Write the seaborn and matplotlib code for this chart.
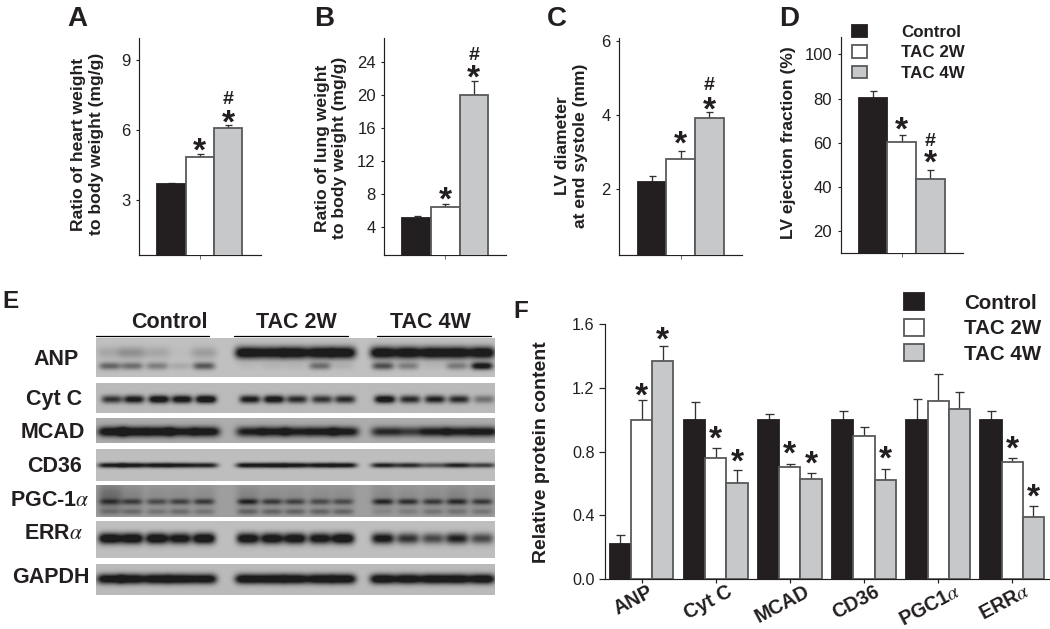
import numpy as np
import pandas as pd
import matplotlib
matplotlib.use("Agg")
import matplotlib.pyplot as plt
from matplotlib.lines import Line2D
from matplotlib.patches import Patch
from matplotlib.transforms import ScaledTranslation
import seaborn as sns

# ---------- data ----------
conditions = ["Control", "TAC 2W", "TAC 4W"]
heart_vals = [3.66, 4.84, 6.07]
heart_tops = [3.70, 4.96, 6.23]
lung_vals = [5.18, 6.47, 20.0]
lung_tops = [5.35, 6.80, 21.7]
diam_vals = [2.20, 2.82, 3.91]
diam_tops = [2.34, 3.02, 4.07]
ef_vals = [80.5, 60.6, 43.5]
ef_tops = [83.3, 63.6, 47.5]

proteins = ["ANP", "Cyt C", "MCAD", "CD36", r"PGC1$\alpha$", r"ERR$\alpha$"]
prot_control = [0.222, 1.0, 1.0, 1.0, 1.0, 1.0]
prot_2w = [1.0, 0.761, 0.702, 0.897, 1.118, 0.734]
prot_4w = [1.37, 0.60, 0.627, 0.625, 1.067, 0.39]
top_control = [0.277, 1.11, 1.038, 1.055, 1.128, 1.055]
top_2w = [1.126, 0.826, 0.725, 0.954, 1.29, 0.763]
top_4w = [1.462, 0.684, 0.669, 0.69, 1.172, 0.459]

blot_names = ["ANP", "Cyt C", "MCAD", "CD36", r"PGC-1$\alpha$", r"ERR$\alpha$", "GAPDH"]
# band darkness per lane (5 Control, 5 TAC 2W, 5 TAC 4W)
anp_upper = [.12, .22, .12, .02, .16, 1, .95, 1, 1, 1, 1, 1, 1, 1, 1]
anp_lower = [.42, .38, .30, .10, .48, .03, .05, .05, .38, .07, .52, .30, .05, .32, .85]
cytc_band = [.65, .82, .95, .90, 1, .80, .90, .70, .65, .70, .92, .70, .75, .70, .35]
mcad_band = [1, 1, 1, .85, .95, .80, .85, .80, .85, .85, .70, .60, .80, .80, .85]
cd36_band = [.80, .85, .85, .80, .75, .85, .90, .85, .85, .85, .75, .70, .50, .75, .60]
pgc_upper = [.40, .45, .40, .45, .50, .60, .50, .45, .40, .40, .60, .55, .50, .55, .50]
pgc_lower = [.20, .25, .20, .25, .20, .30, .30, .30, .30, .30, .10, .15, .20, .20, .20]
pgc_haze = [.30, .15, .10, .10, .10, .15, .10, .10, .10, .10, .12, .10, .10, .15, .10]
erra_band = [1, 1, 1, .9, 1, .95, .95, .95, .9, 1, .85, .65, .55, .75, .55]
gapdh_band = [.95, 1, 1, 1, .95, 1, 1, 1, 1, 1, 1, 1, 1, 1, 1]

# ---------- style ----------
W, H = 1050, 629
sns.set_theme(style="ticks")
plt.rcParams["font.family"] = ["Liberation Sans", "DejaVu Sans"]
plt.rcParams["mathtext.fontset"] = "stix"
plt.rcParams["axes.linewidth"] = 0.85
DARK = "#231f20"
EDGE = "#58595b"
palette = {"Control": "#231f20", "TAC 2W": "#ffffff", "TAC 4W": "#c7c8ca"}
fig = plt.figure(figsize=(W / 100, H / 100), dpi=100, facecolor="white")


def px_axes(left, right, top, bottom):
    return fig.add_axes([left / W, 1 - bottom / H, (right - left) / W, (bottom - top) / H])


def px_text(x, y, s, **kw):
    return fig.text(x / W, 1 - y / H, s, **kw)


def bars(ax, names, series, tops, caps_px):
    df = pd.DataFrame({
        "group": [n for n in names for _ in conditions],
        "condition": conditions * len(names),
        "value": np.ravel(np.column_stack(series)),
    })
    sns.barplot(data=df, x="group", y="value", hue="condition", hue_order=conditions,
                palette=palette, width=0.858, gap=0, errorbar=None, legend=False,
                saturation=1, ax=ax)
    bar_sets = list(ax.containers)
    for c, cont in zip(conditions, bar_sets):
        for b in cont:
            b.set_edgecolor(DARK if c == "Control" else EDGE)
            b.set_linewidth(1.3)
            b.set_zorder(3)
    for j, cont in enumerate(bar_sets):
        xs = [b.get_x() + b.get_width() / 2 for b in cont]
        ys = [b.get_height() for b in cont]
        ups = np.array(tops[j]) - np.array(ys)
        ax.errorbar(xs, ys, yerr=[np.zeros_like(ups), ups], fmt="none", ecolor="#333333",
                    elinewidth=0.95, capsize=caps_px * 0.36, capthick=0.95, zorder=2)
    ax.set_xlabel("")
    ax.set_ylabel("")


def centres(ax, j):
    return [b.get_x() + b.get_width() / 2 for b in ax.containers[j]]


def mark(ax, x, y, s, lift_px, size, cfrac):
    ax.annotate(s, (x, y), xytext=(0, lift_px * 0.72 - cfrac * size), textcoords="offset points",
                ha="center", va="baseline", fontsize=size, fontweight="bold", color=DARK,
                annotation_clip=False, zorder=5)


def style(ax, yticks, ytl, ylim, xlim, size=12):
    ax.set_ylim(*ylim)
    ax.set_xlim(*xlim)
    ax.set_yticks(yticks)
    ax.set_yticklabels(ytl)
    ax.tick_params(axis="y", length=2.2, width=0.8, pad=4, labelsize=size, labelcolor=DARK, color=DARK)
    ax.tick_params(axis="x", length=3, width=0.6, color="#555555")
    sns.despine(ax=ax)
    for s in ("left", "bottom"):
        ax.spines[s].set_color(DARK)


def panel(box, centre, bar_px, name, vals, tops, yticks, ylim, label, label_xy):
    l, r, t, b = box
    ax = px_axes(l, r, t, b)
    bars(ax, [name], [[v] for v in vals], [[v] for v in tops], 7)
    unit = bar_px / 0.286
    style(ax, yticks, [str(v) for v in yticks], ylim, ((l - centre) / unit, (r - centre) / unit))
    ax.set_xticks([0])
    ax.set_xticklabels([""])
    px_text(label_xy[0], label_xy[1], label, rotation=90, ha="center", va="center",
            fontsize=12.6, fontweight="bold", color=DARK, linespacing=1.17,
            multialignment="center")
    return ax


# ---------- panels A-D ----------
axA = panel((139.3, 260.6, 38, 255.3), 199.8, 28.4, "A", heart_vals, heart_tops, [3, 6, 9],
            (0.6, 9.97), "Ratio of heart weight\nto body weight (mg/g)", (87.5, 144))
axB = panel((384.4, 506.4, 38, 255.3), 445.2, 28.6, "B", lung_vals, lung_tops,
            [4, 8, 12, 16, 20, 24], (0.6, 26.95),
            "Ratio of lung weight\nto body weight (mg/g)", (331, 148))
axC = panel((619.3, 741.7, 38, 255.3), 680.7, 28.7, "C", diam_vals, diam_tops, [2, 4, 6],
            (0.21, 6.07), "LV diameter\nat end systole (mm)", (571.5, 146))
axD = panel((840.7, 962.7, 36.7, 253.3), 901.7, 28.6, "D", ef_vals, ef_tops,
            [20, 40, 60, 80, 100], (10.05, 108), "LV ejection fraction (%)", (788, 143))

STAR, HASH = 24, 14
SC, HC = .44, .35
mark(axA, centres(axA, 1)[0], heart_tops[1], "*", 8.5, STAR, SC)
mark(axA, centres(axA, 2)[0], heart_tops[2], "*", 7, STAR, SC)
mark(axA, centres(axA, 2)[0], heart_tops[2], "#", 27.5, HASH, HC)
mark(axB, centres(axB, 1)[0], lung_tops[1], "*", 9, STAR, SC)
mark(axB, centres(axB, 2)[0], lung_tops[2], "*", 8.3, STAR, SC)
mark(axB, centres(axB, 2)[0], lung_tops[2], "#", 27.7, HASH, HC)
mark(axC, centres(axC, 1)[0], diam_tops[1], "*", 12, STAR, SC)
mark(axC, centres(axC, 2)[0], diam_tops[2], "*", 7.6, STAR, SC)
mark(axC, centres(axC, 2)[0], diam_tops[2], "#", 29.3, HASH, HC)
mark(axD, centres(axD, 1)[0], ef_tops[1], "*", 10, STAR, SC)
mark(axD, centres(axD, 2)[0], ef_tops[2], "*", 12.3, STAR, SC)
mark(axD, centres(axD, 2)[0], ef_tops[2], "#", 31, HASH, HC)


def swatches():
    return [Patch(facecolor=palette[c], edgecolor=DARK if c == "Control" else EDGE, linewidth=1.3)
            for c in conditions]


fig.legend(swatches(), conditions, loc="upper left", bbox_to_anchor=(851.7 / W, 1 - 24.5 / H),
           frameon=False, borderpad=0, borderaxespad=0, handlelength=0.9, handleheight=0.76,
           handletextpad=2.0, labelspacing=0.32, labelcolor=DARK,
           prop={"weight": "bold", "size": 12.2})

# ---------- panel E ----------
blot_l, blot_r, blot_t, blot_b = 96, 495, 338, 595
lanes = np.array([110, 132, 157, 180, 204, 248, 272, 295, 320, 343, 383, 408, 433, 457, 482], float)
img = np.full((blot_b - blot_t, blot_r - blot_l), 255.0)
xx = np.arange(blot_l, blot_r) + 0.5
yy = np.arange(blot_t, blot_b) + 0.5
X, Y = np.meshgrid(xx, yy)
GAIN = 1.35
strips = [
    (338.3, 377, 192, [(anp_upper, 352.7, 13, 6, 0), (anp_lower, 366, 11, 3.8, 0)]),
    (382.7, 413, 186, [(cytc_band, 399.3, 10.5, 4, 2)]),
    (417.7, 443, 172, [(mcad_band, 431.7, 14, 5, 2)]),
    (448.7, 481, 190, [(cd36_band, 465.3, 13, 2.6, 1)]),
    (485.3, 517, 158, [(pgc_upper, 501.7, 10.5, 3, 0), (pgc_lower, 511.7, 10.5, 3, 0),
                       (pgc_haze, 497, 12, 14, 0)]),
    (521, 558.3, 190, [(erra_band, 538.5, 11.5, 5.5, 0)]),
    (564, 595, 186, [(gapdh_band, 579, 13, 5, 0)]),
]
for top, bot, bg, band_sets in strips:
    mask = (Y >= top) & (Y < bot)
    dark = np.zeros_like(X)
    for levels, yc, wx, wy, shift in band_sets:
        for cx, lev in zip(lanes + shift, levels):
            dark += lev * np.exp(-np.abs((X - cx) / wx) ** 4) * np.exp(-((Y - yc) / wy) ** 2)
    img[mask] = (bg - (bg - 28) * np.clip(GAIN * dark, 0, 1))[mask]

axE = px_axes(blot_l, blot_r, blot_t, blot_b)
sns.heatmap(img, cmap="gray", vmin=0, vmax=255, cbar=False, xticklabels=False, yticklabels=False,
            ax=axE)
blot_label_x = [56, 54, 53, 55, 50, 54, 51]
blot_label_y = [359.7, 400, 432, 466.7, 500.7, 533.3, 577.7]
for n, x, y in zip(blot_names, blot_label_x, blot_label_y):
    px_text(x, y, n, ha="center", va="center", fontsize=15.5, fontweight="bold", color=DARK)
for c, x, (a, b) in zip(conditions, [169.5, 296, 430], [(95.7, 209), (234, 347.7), (377.3, 491)]):
    px_text(x, 322, c, ha="center", va="center", fontsize=15.5, fontweight="bold", color=DARK)
    fig.add_artist(Line2D([a / W, b / W], [1 - 336.3 / H] * 2, color="black", lw=0.9))

# ---------- panel F ----------
axF = px_axes(605, 1050, 324.3, 579)
bars(axF, proteins, [prot_control, prot_2w, prot_4w], [top_control, top_2w, top_4w], 9)
style(axF, [0, 0.4, 0.8, 1.2, 1.6], ["0.0", "0.4", "0.8", "1.2", "1.6"], (0, 1.6), (-0.495, 5.51), size=11.6)
axF.tick_params(axis="y", length=4.5, width=0.85, pad=3)
axF.tick_params(axis="x", length=3.2, width=0.85, color=DARK, pad=1)
axF.set_xticks(range(len(proteins)))
axF.set_xticklabels(proteins, rotation=28, ha="center", fontsize=14.2, fontweight="bold", color=DARK)
shift_labels = ScaledTranslation(-8 / 100, 3 / 100, fig.dpi_scale_trans)
for lbl in axF.get_xticklabels():
    lbl.set_transform(lbl.get_transform() + shift_labels)
px_text(541.7, 451.7, "Relative protein content", rotation=90, ha="center", va="center",
        fontsize=14, fontweight="bold", color=DARK)

star_2w = [(0, 8.7), (1, 14), (2, 15), (5, 14)]
star_4w = [(0, 11.3), (1, 13.7), (2, 13.3), (3, 15.7), (5, 14)]
for i, lift in star_2w:
    mark(axF, centres(axF, 1)[i], top_2w[i], "*", lift, STAR, SC)
for i, lift in star_4w:
    mark(axF, centres(axF, 2)[i], top_4w[i], "*", lift, STAR, SC)

fig.legend(swatches(), conditions, loc="upper left", bbox_to_anchor=(904.3 / W, 1 - 293 / H),
           frameon=False, borderpad=0, borderaxespad=0, handlelength=0.95, handleheight=0.9,
           handletextpad=1.95, labelspacing=0.29, labelcolor=DARK,
           prop={"weight": "bold", "size": 14.8})

# ---------- panel letters ----------
for s, x, y, size in [("A", 67, 26.5, 20), ("B", 314.4, 25.5, 20), ("C", 546.7, 25.5, 20),
                      ("D", 779, 26, 20), ("E", 2, 308, 17.5), ("F", 513, 318, 17.5)]:
    px_text(x, y, s, fontsize=size, fontweight="bold", color=DARK, ha="left", va="baseline")

fig.savefig("out.png", dpi=100, facecolor="white")
